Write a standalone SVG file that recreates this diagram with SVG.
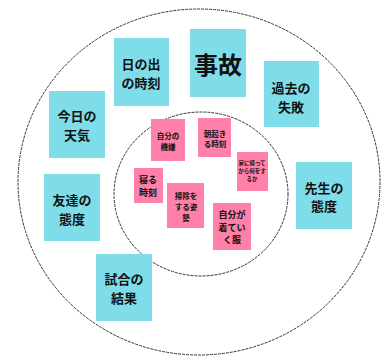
<svg xmlns="http://www.w3.org/2000/svg" width="388" height="356" viewBox="0 0 388 356">
<style>
.ring{fill:none;stroke:#333;stroke-width:1;stroke-dasharray:3 1}
.blue{fill:#7fdde9}
.pink{fill:#ff80a8}
text{font-family:"Noto Sans CJK JP","Noto Sans",sans-serif;font-weight:bold;fill:#111;text-anchor:middle;dominant-baseline:central}
.b{font-size:13px}
.p{font-size:7.5px}
.s{font-size:5.5px}
</style>
<rect width="388" height="356" fill="#fff"/>
<g id="rings">
<ellipse id="outer-ring" class="ring" cx="199" cy="182" rx="181" ry="173"/>
<ellipse id="inner-ring" class="ring" cx="201" cy="194" rx="87" ry="82"/>
</g>
<g id="connectors"></g>
<g id="n-hinode"><rect class="blue" x="114" y="38" width="55" height="68"/><text class="b" x="141" y="63">日の出</text><text class="b" x="141" y="82">の時刻</text></g>
<g id="n-jiko"><rect class="blue" x="190" y="29" width="56" height="68"/><text x="218" y="63" style="font-size:24px">事故</text></g>
<g id="n-kako"><rect class="blue" x="264" y="61" width="55" height="66"/><text class="b" x="291" y="87">過去の</text><text class="b" x="291" y="106">失敗</text></g>
<g id="n-tenki"><rect class="blue" x="49" y="91" width="56" height="67"/><text class="b" x="77" y="115">今日の</text><text class="b" x="77" y="134">天気</text></g>
<g id="n-tomodachi"><rect class="blue" x="44" y="174" width="56" height="67"/><text class="b" x="72" y="199">友達の</text><text class="b" x="72" y="218">態度</text></g>
<g id="n-sensei"><rect class="blue" x="296" y="162" width="56" height="67"/><text class="b" x="324" y="187">先生の</text><text class="b" x="324" y="205">態度</text></g>
<g id="n-shiai"><rect class="blue" x="96" y="254" width="56" height="67"/><text class="b" x="124" y="278">試合の</text><text class="b" x="124" y="297">結果</text></g>
<g id="n-kigen"><rect class="pink" x="151" y="119" width="34" height="42"/><text class="p" x="168" y="135">自分の</text><text class="p" x="168" y="146">機嫌</text></g>
<g id="n-okiru"><rect class="pink" x="198" y="118" width="33" height="39"/><text class="p" x="215" y="133">朝起き</text><text class="p" x="215" y="143">る時刻</text></g>
<g id="n-kaette"><rect class="pink" x="237" y="152" width="31" height="39"/><text class="s" x="252" y="163">家に帰って</text><text class="s" x="252" y="171">から何をす</text><text class="s" x="252" y="179">るか</text></g>
<g id="n-neru"><rect class="pink" x="134" y="168" width="29" height="35"/><text x="148" y="179" style="font-size:9px">寝る</text><text x="148" y="192" style="font-size:9px">時刻</text></g>
<g id="n-souji"><rect class="pink" x="167" y="183" width="37" height="45"/><text class="p" x="186" y="195">掃除を</text><text class="p" x="186" y="206">する姿</text><text class="p" x="186" y="217">勢</text></g>
<g id="n-fuku"><rect class="pink" x="213" y="203" width="38" height="47"/><text x="232" y="214" style="font-size:9px">自分が</text><text x="232" y="227" style="font-size:9px">着てい</text><text x="232" y="239" style="font-size:9px">く服</text></g>
</svg>
